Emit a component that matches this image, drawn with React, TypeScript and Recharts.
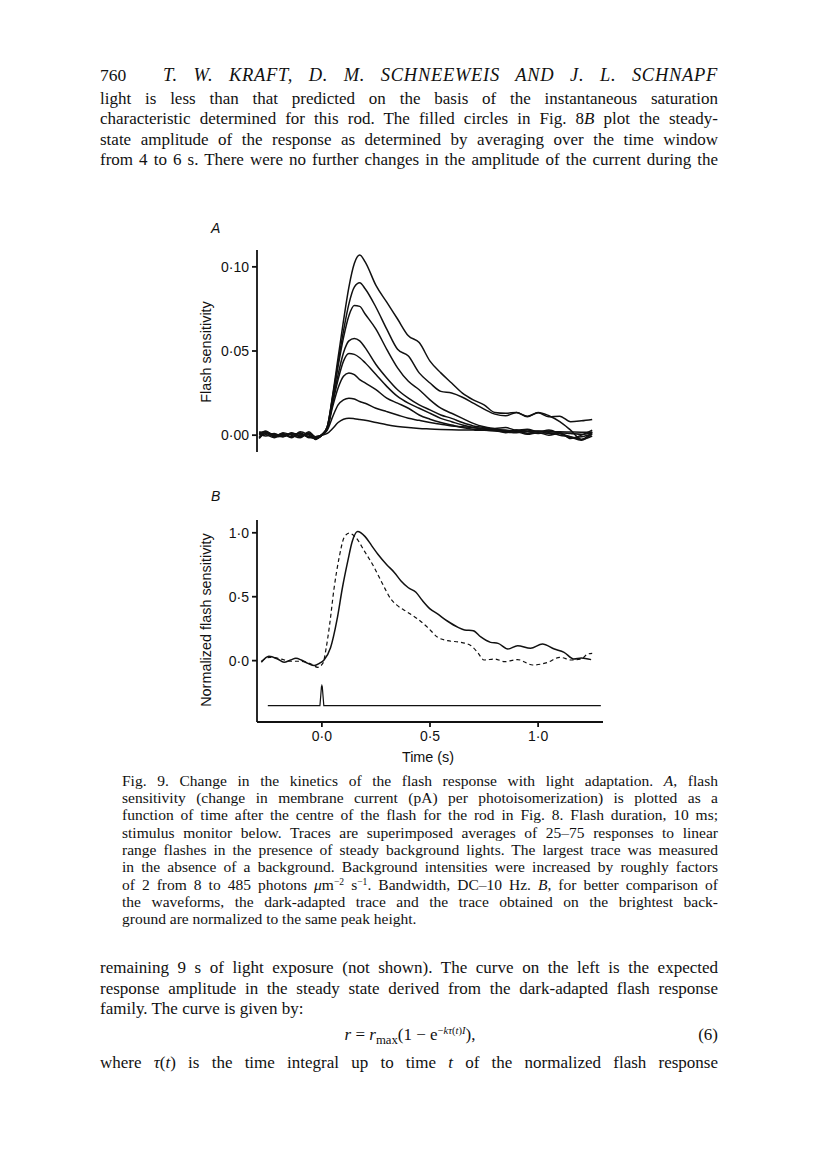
import React from 'react';
import { LineChart, Line, XAxis, YAxis } from 'recharts';

// ---------- Panel A: flash sensitivity traces (shared time grid, s) ----------
const timeA = [-0.29, -0.26, -0.22, -0.18, -0.14, -0.1, -0.06, -0.03, 0, 0.025, 0.05, 0.075, 0.1, 0.125, 0.15, 0.175, 0.2, 0.25, 0.3, 0.35, 0.4, 0.45, 0.5, 0.55, 0.6, 0.65, 0.7, 0.75, 0.8, 0.85, 0.9, 0.95, 1.0, 1.05, 1.1, 1.15, 1.2, 1.25];

const traceA1 = [0.0015, 0.002, -0.0005, 0.001, -0.001, 0.0015, -0.0015, -0.001, 0, 0.005, 0.024, 0.046, 0.068, 0.088, 0.102, 0.107, 0.103, 0.089, 0.079, 0.069, 0.059, 0.055, 0.044, 0.037, 0.031, 0.025, 0.021, 0.018, 0.0135, 0.013, 0.0135, 0.0113, 0.0133, 0.0109, 0.0113, 0.008, 0.0085, 0.0093];
const traceA2 = [-0.0015, 0.001, 0.0005, -0.001, 0.0015, -0.0005, 0.001, -0.002, 0, 0.005, 0.023, 0.043, 0.062, 0.078, 0.088, 0.0905, 0.087, 0.076, 0.063, 0.051, 0.047, 0.037, 0.031, 0.026, 0.025, 0.0225, 0.019, 0.0155, 0.0125, 0.0115, 0.0135, 0.011, 0.0135, 0.0115, 0.008, 0.003, -0.0025, 0.002];
const traceA3 = [0.0005, 0.0025, -0.001, -0.0005, 0.0005, 0.001, -0.001, -0.0015, 0.0005, 0.005, 0.022, 0.041, 0.058, 0.071, 0.077, 0.0765, 0.072, 0.063, 0.051, 0.04, 0.032, 0.027, 0.021, 0.016, 0.013, 0.01, 0.007, 0.005, 0.004, 0.0045, 0.003, 0.0035, 0.002, 0.003, 0.001, -0.001, -0.003, 0.001];
const traceA4 = [-0.002, 0.0015, 0, 0.0005, -0.0015, 0.002, 0, -0.002, 0, 0.004, 0.02, 0.036, 0.049, 0.056, 0.0575, 0.056, 0.052, 0.042, 0.034, 0.027, 0.022, 0.018, 0.015, 0.012, 0.01, 0.0075, 0.0055, 0.0045, 0.0035, 0.002, 0.003, 0.001, 0.0025, 0.001, 0.0015, -0.002, 0, 0.003];
const traceA5 = [0.001, -0.0005, 0.001, -0.001, 0.001, -0.001, 0.002, -0.001, 0, 0.004, 0.019, 0.033, 0.044, 0.0485, 0.048, 0.046, 0.043, 0.036, 0.029, 0.023, 0.019, 0.016, 0.013, 0.01, 0.008, 0.006, 0.0045, 0.0035, 0.003, 0.0015, 0.002, 0.0005, 0.0015, 0, 0.001, -0.0015, -0.001, 0.0005];
const traceA6 = [0.002, 0.0005, -0.0015, 0.0015, 0, -0.0015, 0.0015, -0.0025, 0, 0.004, 0.017, 0.028, 0.035, 0.037, 0.036, 0.033, 0.031, 0.027, 0.022, 0.019, 0.016, 0.012, 0.0095, 0.0075, 0.006, 0.0045, 0.0035, 0.003, 0.0025, 0.002, 0.0015, 0.002, 0.001, 0.0015, 0, -0.001, -0.0025, -0.0005];
const traceA7 = [-0.001, 0.002, 0, -0.0005, 0.001, 0.0005, -0.001, -0.002, 0, 0.003, 0.011, 0.018, 0.021, 0.022, 0.0215, 0.02, 0.019, 0.016, 0.014, 0.012, 0.01, 0.0088, 0.0075, 0.0065, 0.0055, 0.005, 0.0045, 0.004, 0.0035, 0.003, 0.0025, 0.003, 0.002, 0.0025, 0.0015, 0.001, 0.0005, 0.0015];
const traceA8 = [0.0005, 0.001, -0.0005, 0, 0.001, -0.0005, 0.0005, -0.001, 0, 0.001, 0.004, 0.0075, 0.0095, 0.0101, 0.0098, 0.0093, 0.0088, 0.0075, 0.0062, 0.0052, 0.0045, 0.004, 0.0037, 0.0034, 0.0032, 0.0031, 0.003, 0.0029, 0.0027, 0.0026, 0.0025, 0.0024, 0.0023, 0.0022, 0.002, 0.0019, 0.0018, 0.0018];
const tracesA = [traceA1, traceA2, traceA3, traceA4, traceA5, traceA6, traceA7, traceA8];

const ticksA = [0, 0.05, 0.1];
const tickLabelsA = ['0·00', '0·05', '0·10'];

// ---------- Panel B: normalized traces ----------
const solidTime = [-0.28, -0.245, -0.205, -0.175, -0.145, -0.12, -0.095, -0.065, -0.035, -0.01, 0.01, 0.04, 0.07, 0.095, 0.12, 0.14, 0.165, 0.2, 0.23, 0.26, 0.3, 0.335, 0.365, 0.4, 0.435, 0.465, 0.5, 0.535, 0.58, 0.63, 0.66, 0.7, 0.735, 0.78, 0.815, 0.86, 0.905, 0.965, 1.02, 1.075, 1.12, 1.165, 1.2, 1.245];
const solidValue = [-0.013, 0.034, 0.013, -0.013, 0.005, 0.018, 0.005, -0.021, -0.039, -0.02, 0.005, 0.1, 0.32, 0.57, 0.78, 0.93, 1.01, 0.97, 0.9, 0.83, 0.75, 0.69, 0.625, 0.57, 0.535, 0.47, 0.405, 0.365, 0.31, 0.26, 0.24, 0.234, 0.185, 0.143, 0.135, 0.091, 0.117, 0.096, 0.13, 0.091, 0.065, 0.013, 0.021, 0.008];

const dashTime = [-0.28, -0.24, -0.19, -0.145, -0.1, -0.05, -0.02, 0.005, 0.02, 0.035, 0.057, 0.08, 0.103, 0.126, 0.157, 0.196, 0.242, 0.281, 0.319, 0.35, 0.397, 0.443, 0.489, 0.536, 0.582, 0.644, 0.69, 0.72, 0.75, 0.8, 0.845, 0.905, 0.975, 1.045, 1.1, 1.155, 1.2, 1.23, 1.25];
const dashValue = [-0.005, 0.026, 0.013, -0.005, -0.005, -0.026, -0.052, -0.02, 0.1, 0.27, 0.573, 0.807, 0.963, 0.997, 0.963, 0.859, 0.729, 0.599, 0.482, 0.43, 0.378, 0.326, 0.26, 0.182, 0.156, 0.143, 0.117, 0.065, 0.005, 0.013, -0.008, 0.008, -0.034, -0.013, 0.026, 0.005, 0.013, 0.052, 0.057];

const stimTime = [-0.25, -0.009, -0.005, -0.002, 0, 0.002, 0.005, 0.009, 1.29];
const stimValue = [-0.352, -0.352, -0.27, -0.205, -0.195, -0.205, -0.27, -0.352, -0.352];

const ticksBx = [0, 0.5, 1];
const tickLabelsBx = ['0·0', '0·5', '1·0'];
const ticksBy = [0, 0.5, 1];
const tickLabelsBy = ['0·0', '0·5', '1·0'];

// ---------- text ----------
const bodyTop = [
  'light is less than that predicted on the basis of the instantaneous saturation',
  'characteristic determined for this rod. The filled circles in Fig. 8|B| plot the steady-',
  'state amplitude of the response as determined by averaging over the time window',
  'from 4 to 6 s. There were no further changes in the amplitude of the current during the',
];
const captionLines = [
  'Fig. 9. Change in the kinetics of the flash response with light adaptation. |A|, flash',
  'sensitivity (change in membrane current (pA) per photoisomerization) is plotted as a',
  'function of time after the centre of the flash for the rod in Fig. 8. Flash duration, 10 ms;',
  'stimulus monitor below. Traces are superimposed averages of 25–75 responses to linear',
  'range flashes in the presence of steady background lights. The largest trace was measured',
  'in the absence of a background. Background intensities were increased by roughly factors',
  'of 2 from 8 to 485 photons |μ|m^−2^ s^−1^. Bandwidth, DC–10 Hz. |B|, for better comparison of',
  'the waveforms, the dark-adapted trace and the trace obtained on the brightest back-',
  'ground are normalized to the same peak height.',
];
const bodyBottom = [
  'remaining 9 s of light exposure (not shown). The curve on the left is the expected',
  'response amplitude in the steady state derived from the dark-adapted flash response',
  'family. The curve is given by:',
];
const lastLine = 'where |τ|(|t|) is the time integral up to time |t| of the normalized flash response';

const fmt = (ticks: number[], labels: string[]) => (v: number) => {
  const i = ticks.findIndex((t) => Math.abs(t - v) < 1e-9);
  return i >= 0 ? labels[i] : '';
};

const tableA = timeA.map((t, i) => {
  const row: Record<string, number> = { t };
  tracesA.forEach((s, k) => {
    row['s' + (k + 1)] = s[i];
  });
  return row;
});
const solidData = solidTime.map((t, i) => ({ t, v: solidValue[i] }));
const dashData = dashTime.map((t, i) => ({ t, v: dashValue[i] }));
const stimData = stimTime.map((t, i) => ({ t, v: stimValue[i] }));

const INK = '#111111';
const SANS = '"Liberation Sans", Arial, Helvetica, sans-serif';
const SERIF = '"Liberation Serif", "Times New Roman", serif';

// render |x| as italic, ^x^ as superscript
function rich(text: string) {
  const parts: React.ReactNode[] = [];
  const re = /\|([^|]+)\||\^([^^]+)\^/g;
  let last = 0;
  let m: RegExpExecArray | null;
  let k = 0;
  while ((m = re.exec(text))) {
    if (m.index > last) parts.push(text.slice(last, m.index));
    if (m[1] !== undefined) parts.push(<i key={k++}>{m[1]}</i>);
    else parts.push(<sup key={k++} style={{ fontSize: '0.62em', lineHeight: 0, verticalAlign: '0.55em' }}>{m[2]}</sup>);
    last = m.index + m[0].length;
  }
  if (last < text.length) parts.push(text.slice(last));
  return parts;
}

function TextLine(props: { text: string; left: number; width: number; center: number; size: number; lh: number; justify?: boolean }) {
  const { text, left, width, center, size, lh, justify } = props;
  return (
    <div
      style={{
        position: 'absolute',
        left,
        top: center - lh / 2,
        width,
        height: lh,
        lineHeight: lh + 'px',
        fontSize: size,
        fontFamily: SERIF,
        color: INK,
        whiteSpace: 'nowrap',
        textAlign: justify ? 'justify' : 'left',
        textAlignLast: justify ? 'justify' : 'left',
      }}
    >
      {rich(text)}
    </div>
  );
}

const axisStroke = { stroke: INK, strokeWidth: 1.8 };
const tickStyle = { fill: INK, fontSize: 14, fontFamily: SANS };

export default function App() {
  const bodyCenters = [98.5, 119, 139.5, 160];
  const capCenters = captionLines.map((_, i) => 780 + 17.35 * i);
  const bottomCenters = [968, 988.5, 1009];
  return (
    <div style={{ position: 'absolute', left: 0, top: 0, width: 816, height: 1169, background: '#fff', overflow: 'hidden' }}>
      {/* running head */}
      <div style={{ position: 'absolute', left: 100, top: 65, fontSize: 17.5, lineHeight: '20px', fontFamily: SERIF, color: INK }}>760</div>
      <div
        style={{
          position: 'absolute', left: 163, top: 65, width: 555, fontSize: 18.5, lineHeight: '20px', fontFamily: SERIF,
          fontStyle: 'italic', color: INK, whiteSpace: 'nowrap', textAlign: 'justify', textAlignLast: 'justify', letterSpacing: 0.7,
        }}
      >
        T. W. KRAFT, D. M. SCHNEEWEIS AND J. L. SCHNAPF
      </div>

      {bodyTop.map((t, i) => (
        <TextLine key={'b' + i} text={t} left={100} width={618} center={bodyCenters[i]} size={17} lh={20} justify />
      ))}

      {/* Panel A */}
      <div style={{ position: 'absolute', left: 211, top: 220, fontSize: 14, fontFamily: SANS, fontStyle: 'italic', color: INK }}>A</div>
      <div
        style={{
          position: 'absolute', left: 206 - 120, top: 352 - 9, width: 240, height: 18, lineHeight: '18px', textAlign: 'center',
          fontSize: 14.4, fontFamily: SANS, color: INK, transform: 'rotate(-90deg)', transformOrigin: '50% 50%',
        }}
      >
        Flash sensitivity
      </div>
      <div style={{ position: 'absolute', left: 197, top: 240 }}>
        <LineChart width={411} height={217} margin={{ top: 10, right: 5, bottom: 5, left: 0 }}>
          <XAxis type="number" dataKey="t" domain={[-0.3, 1.3]} hide allowDataOverflow />
          <YAxis
            type="number"
            domain={[-0.01, 0.11]}
            ticks={ticksA}
            tickFormatter={fmt(ticksA, tickLabelsA)}
            width={60}
            axisLine={axisStroke}
            tickLine={axisStroke}
            tickSize={5}
            tickMargin={3}
            tick={tickStyle}
            allowDataOverflow
          />
          {tracesA.map((_, k) => (
            <Line
              key={k}
              data={tableA}
              dataKey={'s' + (k + 1)}
              type="monotone"
              stroke={INK}
              strokeWidth={1.5}
              dot={false}
              isAnimationActive={false}
            />
          ))}
        </LineChart>
      </div>

      {/* Panel B */}
      <div style={{ position: 'absolute', left: 211, top: 488, fontSize: 14, fontFamily: SANS, fontStyle: 'italic', color: INK }}>B</div>
      <div
        style={{
          position: 'absolute', left: 206 - 120, top: 620 - 9, width: 240, height: 18, lineHeight: '18px', textAlign: 'center',
          fontSize: 14.4, fontFamily: SANS, color: INK, transform: 'rotate(-90deg)', transformOrigin: '50% 50%',
        }}
      >
        Normalized flash sensitivity
      </div>
      <div style={{ position: 'absolute', left: 197, top: 510 }}>
        <LineChart width={411} height={252} margin={{ top: 10, right: 5, bottom: 0, left: 0 }}>
          <XAxis
            type="number"
            dataKey="t"
            domain={[-0.3, 1.3]}
            ticks={ticksBx}
            tickFormatter={fmt(ticksBx, tickLabelsBx)}
            height={40}
            axisLine={axisStroke}
            tickLine={axisStroke}
            tickSize={5}
            tickMargin={4}
            tick={tickStyle}
            allowDataOverflow
          />
          <YAxis
            type="number"
            domain={[-0.48, 1.1]}
            ticks={ticksBy}
            tickFormatter={fmt(ticksBy, tickLabelsBy)}
            width={60}
            axisLine={axisStroke}
            tickLine={axisStroke}
            tickSize={5}
            tickMargin={3}
            tick={tickStyle}
            allowDataOverflow
          />
          <Line data={stimData} dataKey="v" type="linear" stroke={INK} strokeWidth={1.2} dot={false} isAnimationActive={false} />
          <Line data={dashData} dataKey="v" type="monotone" stroke={INK} strokeWidth={1.2} strokeDasharray="4 3" dot={false} isAnimationActive={false} />
          <Line data={solidData} dataKey="v" type="monotone" stroke={INK} strokeWidth={1.5} dot={false} isAnimationActive={false} />
        </LineChart>
      </div>
      <div style={{ position: 'absolute', left: 428 - 60, top: 749, width: 120, textAlign: 'center', fontSize: 14.4, lineHeight: '16px', fontFamily: SANS, color: INK }}>
        Time (s)
      </div>

      {/* caption */}
      {captionLines.map((t, i) => (
        <TextLine key={'c' + i} text={t} left={122} width={596} center={capCenters[i]} size={15.5} lh={17} justify={i < captionLines.length - 1} />
      ))}

      {/* bottom text */}
      {bodyBottom.map((t, i) => (
        <TextLine key={'d' + i} text={t} left={100} width={618} center={bottomCenters[i]} size={17} lh={20} justify={i < 2} />
      ))}
      <div style={{ position: 'absolute', left: 210, top: 1025, width: 400, textAlign: 'center', fontSize: 17, lineHeight: '20px', fontFamily: SERIF, color: INK, whiteSpace: 'nowrap' }}>
        <i>r</i> = <i>r</i>
        <sub style={{ fontSize: '0.75em', lineHeight: 0 }}>max</sub>(1 − e
        <sup style={{ fontSize: '0.62em', lineHeight: 0, verticalAlign: '0.6em' }}>
          −<i>kτ</i>(<i>t</i>)<i>I</i>
        </sup>
        ),
      </div>
      <div style={{ position: 'absolute', left: 618, top: 1025, width: 100, textAlign: 'right', fontSize: 17, lineHeight: '20px', fontFamily: SERIF, color: INK }}>(6)</div>
      <TextLine text={lastLine} left={100} width={618} center={1063} size={17} lh={20} justify />
    </div>
  );
}
